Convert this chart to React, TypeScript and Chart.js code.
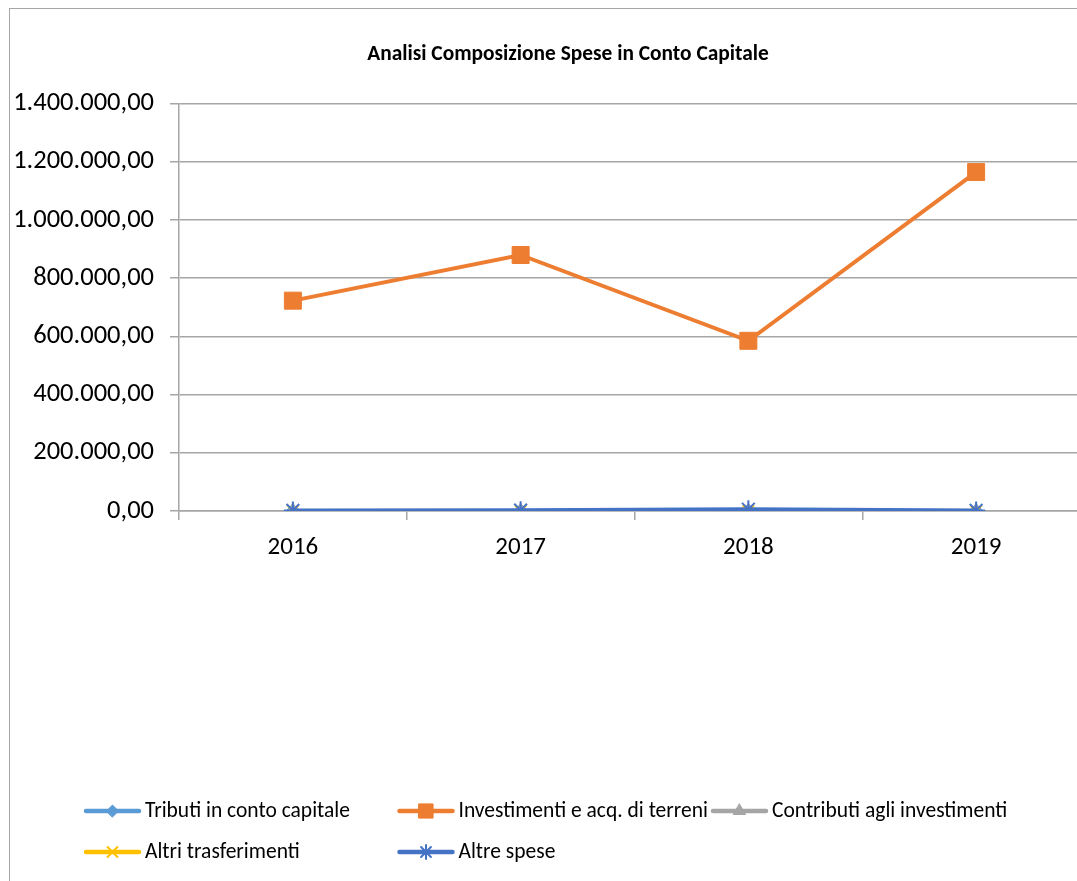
import React, { useEffect, useRef } from "react";
import { Chart, registerables } from "chart.js";
import { drawPoint } from "chart.js/helpers";

Chart.register(...registerables);

const categories = ["2016", "2017", "2018", "2019"];
const seriesNames = [
  "Tributi in conto capitale",
  "Investimenti e acq. di terreni",
  "Contributi agli investimenti",
  "Altri trasferimenti",
  "Altre spese",
];
const tributi = [0, 0, 0, 0];
const investimenti = [723000, 880000, 585000, 1165000];
const contributi = [0, 0, 0, 0];
const altriTrasferimenti = [0, 0, 0, 0];
const altreSpese = [2000, 3000, 6000, 2000];
const yMin = 0;
const yMax = 1400000;
const yStep = 200000;

const FONT = "Carlito, Lato, sans-serif";

function fmt(v: number): string {
  const s = Math.round(v)
    .toString()
    .replace(/\B(?=(\d{3})+(?!\d))/g, ".");
  return s + ",00";
}

const legendPlugin = {
  id: "excelLegend",
  afterDraw(chart: any) {
    const ctx = chart.ctx as CanvasRenderingContext2D;
    const sets = chart.data.datasets;
    ctx.save();
    ctx.font = `21.5px ${FONT}`;
    const lineW = 53;
    const textGap = 6;
    const colW = 313.5;
    const left = 77;
    const rows = [802, 843];
    sets.forEach((d: any, i: number) => {
      const col = i % 3;
      const row = Math.floor(i / 3);
      const x0 = left + col * colW;
      const y = rows[row];
      ctx.strokeStyle = d.borderColor;
      ctx.lineWidth = 4.5;
      ctx.lineCap = "round";
      ctx.beginPath();
      ctx.moveTo(x0, y);
      ctx.lineTo(x0 + lineW, y);
      ctx.stroke();
      ctx.fillStyle = d.pointBackgroundColor;
      ctx.strokeStyle = d.pointBorderColor;
      ctx.lineWidth = d.pointBorderWidth;
      drawPoint(
        ctx,
        {
          pointStyle: d.pointStyle,
          rotation: 0,
          radius: d.legendRadius,
          borderWidth: d.pointBorderWidth,
        },
        x0 + lineW / 2,
        y
      );
      ctx.fillStyle = "#000";
      ctx.textBaseline = "middle";
      ctx.textAlign = "left";
      ctx.fillText(d.label, x0 + lineW + textGap, y + 1);
    });
    ctx.restore();
  },
};

export default function App() {
  const ref = useRef<HTMLCanvasElement>(null);
  useEffect(() => {
    const mk = (
      i: number,
      data: number[],
      color: string,
      style: string,
      radius: number,
      legendRadius: number,
      bw: number,
      lw: number
    ) => ({
      label: seriesNames[i],
      data,
      borderColor: color,
      backgroundColor: color,
      pointBackgroundColor: color,
      pointBorderColor: color,
      pointStyle: style,
      pointRadius: radius,
      pointBorderWidth: bw,
      borderWidth: lw,
      legendRadius,
      order: 5 - i,
      tension: 0,
    });
    const chart = new Chart(ref.current!, {
      type: "line",
      data: {
        labels: categories,
        datasets: [
          mk(0, tributi, "#5b9bd5", "rectRot", 7, 6, 1, 4),
          mk(1, investimenti, "#ed7d31", "rect", 12, 10, 1, 4),
          mk(2, contributi, "#a5a5a5", "triangle", 8, 7, 1, 4),
          mk(3, altriTrasferimenti, "#ffc000", "crossRot", 8, 7, 2, 4),
          mk(4, altreSpese, "#4472c4", "star", 9, 7, 2, 4),
        ] as any,
      },
      options: {
        responsive: false,
        animation: false,
        layout: { padding: { left: 0, right: 0, top: 0, bottom: 338 } },
        plugins: {
          legend: { display: false },
          tooltip: { enabled: false },
          title: {
            display: true,
            text: "Analisi Composizione Spese in Conto Capitale",
            color: "#000",
            font: { family: FONT, size: 21.4, weight: "bold" },
            padding: { top: 33, bottom: 36 },
          },
        },
        scales: {
          x: {
            offset: true,
            grid: {
              offset: true,
              drawOnChartArea: false,
              drawTicks: true,
              tickLength: 9,
              color: "#a6a6a6",
              lineWidth: 1.5,
            },
            border: { display: true, color: "#a6a6a6", width: 1.5 },
            ticks: {
              color: "#000",
              font: { family: FONT, size: 25 },
              padding: 13,
            },
            afterFit(scale: any) {
              scale.height = 60;
            },
          },
          y: {
            min: yMin,
            max: yMax,
            ticks: {
              stepSize: yStep,
              color: "#000",
              font: { family: FONT, size: 26.5 },
              padding: 16,
              callback: (v: any) => fmt(Number(v)),
            },
            grid: {
              color: "#a6a6a6",
              lineWidth: 1.5,
              drawTicks: true,
              tickLength: 9,
            },
            border: { display: true, color: "#a6a6a6", width: 1.5 },
            afterFit(scale: any) {
              scale.width = 170;
            },
          },
          yRight: {
            position: "right",
            min: yMin,
            max: yMax,
            display: true,
            grid: { drawOnChartArea: false, drawTicks: false, display: false },
            border: { display: false },
            ticks: { display: false },
            afterFit(scale: any) {
              scale.width = 37;
            },
          },
        },
      },
      plugins: [legendPlugin],
    });
    return () => chart.destroy();
  }, []);
  return (
    <div
      style={{
        position: "fixed",
        left: 0,
        top: 0,
        width: 1077,
        height: 881,
        overflow: "hidden",
        background: "#fff",
      }}
    >
      <div
        style={{
          position: "absolute",
          left: 9,
          top: 8,
          width: 1140,
          height: 920,
          border: "1px solid #a6a6a6",
          boxSizing: "border-box",
        }}
      />
      <canvas
        ref={ref}
        width={1118}
        height={900}
        style={{ position: "absolute", left: 9, top: 9, width: 1118, height: 900 }}
      />
    </div>
  );
}
